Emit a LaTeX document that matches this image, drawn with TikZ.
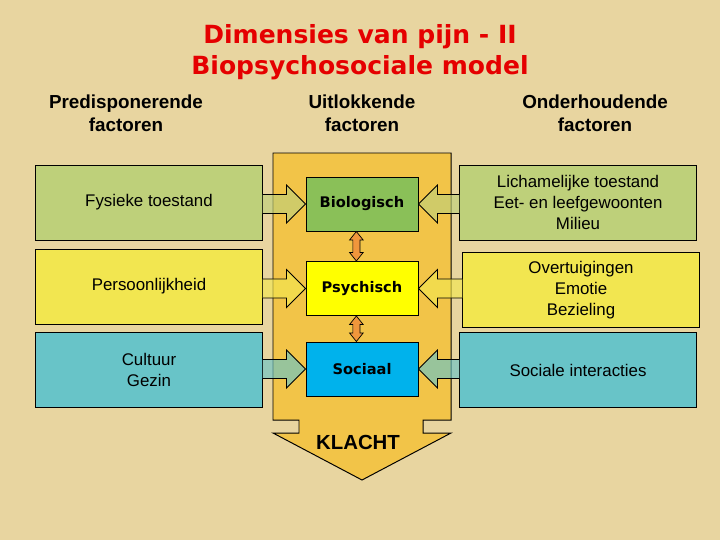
\documentclass[tikz,border=0pt]{standalone}
\usepackage{fontspec}
\setmainfont{Liberation Sans}
\newfontfamily\titlefont{DejaVu Sans}
\usetikzlibrary{calc}

\definecolor{parch}{RGB}{232,213,160}
\definecolor{klacht}{RGB}{242,196,72}
\definecolor{biogreen}{RGB}{138,192,88}
\definecolor{psyyellow}{RGB}{255,255,0}
\definecolor{socblue}{RGB}{0,178,236}
\definecolor{palegreen}{RGB}{190,208,122}
\definecolor{paleyellow}{RGB}{242,230,80}
\definecolor{palecyan}{RGB}{104,196,200}
\definecolor{dblorange}{RGB}{240,150,60}

\begin{document}
\begin{tikzpicture}[x=0.025cm, y=-0.025cm,
        sidebox/.style={draw, line width=0.7pt, minimum height=1.875cm,
            align=center, font=\fontsize{12}{14.7}\selectfont},
        corebox/.style={draw, line width=0.7pt, minimum width=2.8cm,
            minimum height=1.35cm, font=\titlefont\bfseries\fontsize{10.4}{12}\selectfont},
        hdr/.style={align=center, font=\bfseries\fontsize{13.4}{16.4}\selectfont},
        blockarr/.style={draw, line width=0.6pt, fill=#1, fill opacity=0.65,
            to path={let \p1=(\tikztostart), \p2=(\tikztotarget),
                \p3=($(\p2)!13.5pt!(\x1,\y2)$) in
                (\x1,\y2+6.8pt) -- (\x3,\y2+6.8pt) -- (\x3,\y2+13.5pt) -- (\p2)
                -- (\x3,\y2-13.5pt) -- (\x3,\y2-6.8pt) -- (\x1,\y2-6.8pt)}},
        dblarr/.style={draw, line width=0.5pt, fill=dblorange,
            to path={let \p1=($(\tikztostart)+(-4pt,0)$),
                \p2=($(\tikztotarget)+(-4pt,0)$) in
                (\p1) -- (\x1+4.8pt,\y1-6pt) -- (\x1+2.5pt,\y1-6pt)
                -- (\x1+2.5pt,\y2+6pt) -- (\x1+4.8pt,\y2+6pt) -- (\p2)
                -- (\x1-4.8pt,\y2+6pt) -- (\x1-2.5pt,\y2+6pt)
                -- (\x1-2.5pt,\y1-6pt) -- (\x1-4.8pt,\y1-6pt) -- cycle}}
    ]

    % BACKGROUND
    \fill[parch] (0,0) rectangle (720,540);
    \useasboundingbox (0,0) rectangle (720,540);

    % TITLE AND HEADERS
    \node[text=red!90!black, align=center,
        font=\titlefont\bfseries\fontsize{17.8}{22}\selectfont]
        (title) at (360,52) {Dimensies van pijn - II\\Biopsychosociale model};
    \node[hdr] (hpre) at (126,113) {Predisponerende\\factoren};
    \node[hdr] (huit) at (362,113) {Uitlokkende\\factoren};
    \node[hdr] (hond) at (595,113) {Onderhoudende\\factoren};

    % KLACHT ARROW
    \draw[fill=klacht, line width=0.7pt] (273,153) -- (451,153) -- (451,420)
        -- (423,420) -- (423,433) -- (451,433) -- (362,480) -- (273,433)
        -- (299,433) -- (299,420) -- (273,420) -- cycle;
    \node[font=\bfseries\fontsize{14.5}{16}\selectfont] (klacht) at (358,442) {KLACHT};

    % CENTER BOXES
    \node[corebox, fill=biogreen] (bio) at (362,204) {Biologisch};
    \node[corebox, fill=psyyellow] (psy) at (362,288.5) {Psychisch};
    \node[corebox, fill=socblue] (soc) at (362,369) {Sociaal};

    \draw[dblarr] (bio.south) to (psy.north);
    \draw[dblarr] (psy.south) to (soc.north);

    % LEFT BOXES
    \node[sidebox, fill=palegreen, minimum width=5.65cm] (fys) at (149,202.5) {Fysieke toestand};
    \node[sidebox, fill=paleyellow, minimum width=5.65cm] (pers) at (149,286.5) {Persoonlijkheid};
    \node[sidebox, fill=palecyan, minimum width=5.65cm] (cult) at (149,370) {Cultuur\\Gezin};

    % RIGHT BOXES
    \node[sidebox, fill=palegreen, minimum width=5.9cm] (lich) at (578,202.5)
        {Lichamelijke toestand\\Eet- en leefgewoonten\\Milieu};
    \node[sidebox, fill=paleyellow, minimum width=5.9cm] (overt) at (581,290)
        {Overtuigingen\\Emotie\\Bezieling};
    \node[sidebox, fill=palecyan, minimum width=5.9cm] (inter) at (578,370)
        {Sociale interacties};

    % BLOCK ARROWS
    \draw[blockarr=palegreen] (fys.east) to (bio.west);
    \draw[blockarr=paleyellow] (pers.east) to (psy.west);
    \draw[blockarr=palecyan] (cult.east) to (soc.west);
    \draw[blockarr=palegreen] (lich.west) to (bio.east);
    \draw[blockarr=paleyellow] (overt.west) to (psy.east);
    \draw[blockarr=palecyan] (inter.west) to (soc.east);

\end{tikzpicture}
\end{document}
